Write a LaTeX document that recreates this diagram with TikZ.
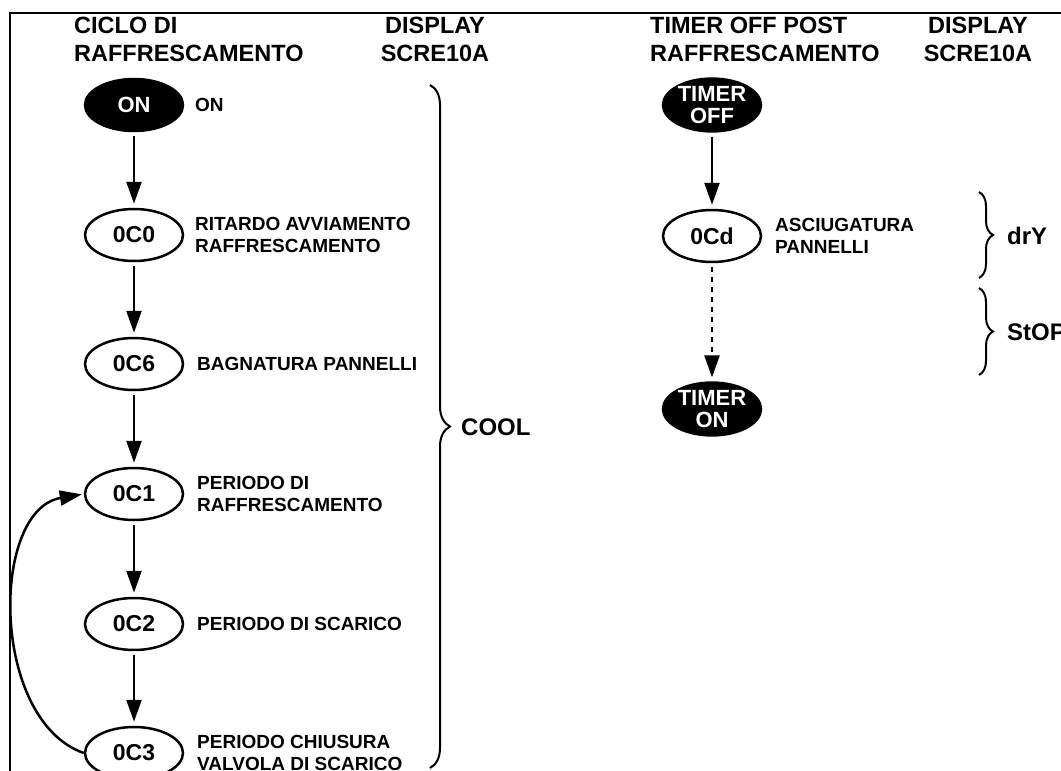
\documentclass[tikz,border=0pt]{standalone}
\usepackage{fontspec}
\setmainfont{Liberation Sans}
\usetikzlibrary{arrows.meta,shapes.geometric,decorations.pathreplacing}

\begin{document}
\begin{tikzpicture}[x=1pt, y=-1pt,
    every node/.style={inner sep=0pt},
    stato/.style={ellipse, draw=black, line width=2.5pt, minimum width=98pt, minimum height=52pt, font=\bfseries\fontsize{23}{23}\selectfont},
    statonero/.style={stato, fill=black, text=white, align=center, font=\bfseries\fontsize{22}{22}\selectfont},
    etichetta/.style={anchor=west, align=left, font=\bfseries\fontsize{19}{21.5}\selectfont},
    titolo/.style={align=left, font=\bfseries\fontsize{23.5}{28}\selectfont},
    sigla/.style={anchor=west, font=\bfseries\fontsize{24}{24}\selectfont},
    freccia/.style={-{Triangle[length=22pt,width=15pt]}, line width=2.5pt, shorten <=4pt, shorten >=4pt},
    tratteggio/.style={freccia, dash pattern=on 5pt off 5pt},
    graffa/.style={decorate, decoration={brace, amplitude=#1}, line width=2pt}
]
\useasboundingbox (0,0) rectangle (1061,771);
\clip (0,0) rectangle (1061,771);

% -------- cornice --------
\draw[line width=2.5pt] (10,771) -- (10,13) -- (1061,13);

% -------- intestazioni --------
\node[titolo, anchor=west] (ciclo) at (74,39) {CICLO DI\\RAFFRESCAMENTO};
\node[titolo, align=center] (disp1) at (435,39) {DISPLAY\\SCRE10A};
\node[titolo, anchor=west] (post) at (650,39) {TIMER OFF POST\\RAFFRESCAMENTO};
\node[titolo, align=center] (disp2) at (978,39) {DISPLAY\\SCRE10A};

% -------- ciclo di raffrescamento --------
\node[statonero] (on) at (134,105) {ON};
\node[stato] (c0) at (134,235) {0C0};
\node[stato] (c6) at (134,364) {0C6};
\node[stato] (c1) at (134,494) {0C1};
\node[stato] (c2) at (134,624) {0C2};
\node[stato] (c3) at (134,753) {0C3};

\node[etichetta] (ton-lab) at (195,105) {ON};
\node[etichetta] (c0-lab) at (195,235) {RITARDO AVVIAMENTO\\RAFFRESCAMENTO};
\node[etichetta] (c6-lab) at (197,364) {BAGNATURA PANNELLI};
\node[etichetta] (c1-lab) at (197,494) {PERIODO DI\\RAFFRESCAMENTO};
\node[etichetta] (c2-lab) at (197,624) {PERIODO DI SCARICO};
\node[etichetta] (c3-lab) at (197,753) {PERIODO CHIUSURA\\VALVOLA DI SCARICO};

\draw[freccia] (on) -- (c0);
\draw[freccia] (c0) -- (c6);
\draw[freccia] (c6) -- (c1);
\draw[freccia] (c1) -- (c2);
\draw[freccia] (c2) -- (c3);
% ritorno da 0C3 a 0C1
\draw[freccia, shorten <=0pt, shorten >=2pt] (c3.west) .. controls (-10,720) and (-10,510) .. (c1.west);

% graffa COOL
\coordinate (cool-a) at (430,85);
\coordinate (cool-b) at (430,768);
\draw[graffa=20pt] (cool-a) -- (cool-b);
\node[sigla] (cool) at (461,427) {COOL};

% -------- timer off post raffrescamento --------
\node[statonero] (toff) at (712,105) {TIMER\\OFF};
\node[stato] (cd) at (712,236) {0Cd};
\node[statonero] (tonn) at (712,409) {TIMER\\ON};

\node[etichetta] (cd-lab) at (775,236) {ASCIUGATURA\\PANNELLI};

\draw[freccia] (toff) -- (cd);
\draw[tratteggio] (cd) -- (tonn);

% graffe drY e StOP
\coordinate (dry-a) at (979,192);
\coordinate (dry-b) at (979,278);
\coordinate (stop-a) at (979,288);
\coordinate (stop-b) at (979,375);
\draw[graffa=14pt] (dry-a) -- (dry-b);
\draw[graffa=14pt] (stop-a) -- (stop-b);
\node[sigla] (dry) at (1007,236) {drY};
\node[sigla] (stop) at (1007,332) {StOP};
\end{tikzpicture}
\end{document}
